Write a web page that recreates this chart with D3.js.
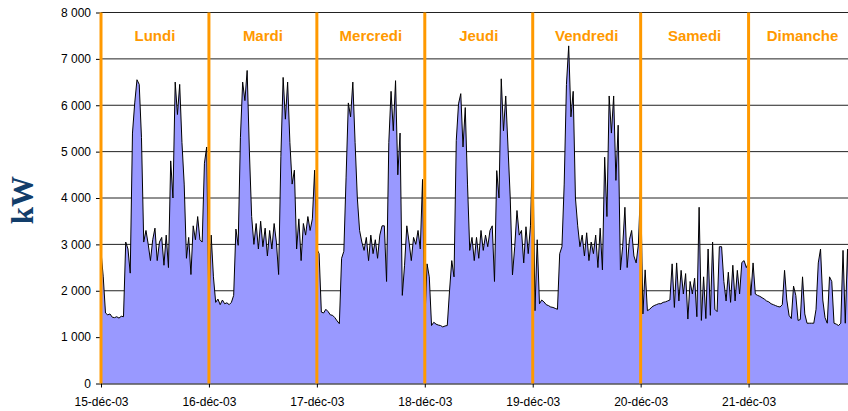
<!DOCTYPE html>
<html>
<head>
<meta charset="utf-8">
<script src="https://cdn.jsdelivr.net/npm/d3@7"></script>
<style>
  body { margin: 0; background: #fff; }
  svg { display: block; font-family: Arial, "Liberation Sans", sans-serif; }
</style>
</head>
<body>
<svg class="chart" width="848" height="411"></svg>
<script>
// day names and date tick labels
const days = ["Lundi", "Mardi", "Mercredi", "Jeudi", "Vendredi", "Samedi", "Dimanche"];
const dateLabels = ["15-déc-03", "16-déc-03", "17-déc-03", "18-déc-03", "19-déc-03", "20-déc-03", "21-déc-03"];
const yTicks = [0, 1000, 2000, 3000, 4000, 5000, 6000, 7000, 8000];

// half-hourly load (kW), 48 values per day
const lundi = [2850, 2300, 1520, 1480, 1500, 1430, 1420, 1440, 1410, 1450, 1440, 3050, 2900, 2380, 5400, 6050, 6550, 6450, 5300, 3050, 3300, 3000, 2650, 3100, 3350, 2650, 3050, 3150, 2550, 3200, 2500, 4800, 4000, 6500, 5800, 6450, 5200, 4300, 2700, 3150, 2350, 3400, 3100, 3600, 3100, 3050, 4750, 5100];
const mardi = [1550, 3200, 2300, 1750, 1820, 1700, 1800, 1720, 1740, 1700, 1750, 1900, 3330, 2980, 5300, 6500, 6100, 6750, 5000, 3600, 3000, 3450, 2900, 3500, 2950, 3350, 2750, 3300, 2900, 3450, 3050, 2350, 4900, 6600, 5700, 6500, 5200, 4300, 4600, 2900, 3550, 2650, 3450, 3200, 3600, 3300, 3550, 4600];
const mercredi = [2900, 2800, 1540, 1520, 1600, 1550, 1480, 1470, 1420, 1350, 1290, 2700, 2850, 4450, 6050, 5750, 6500, 5200, 4000, 3300, 3050, 2870, 3150, 2650, 3200, 2800, 3100, 2700, 3200, 3400, 3400, 2200, 5200, 6300, 5450, 6530, 4500, 5400, 1900, 2550, 3400, 3050, 2650, 3150, 3000, 3300, 2900, 4400];
const jeudi = [1300, 2580, 2300, 1250, 1320, 1280, 1260, 1250, 1220, 1240, 1250, 2000, 2650, 2300, 5240, 6030, 6250, 5100, 5950, 4300, 2870, 3150, 2650, 3150, 2700, 3300, 2870, 3200, 2950, 3300, 3400, 2200, 4590, 4000, 6570, 5450, 6200, 5100, 4000, 2340, 2950, 3730, 3200, 3300, 2600, 3380, 2800, 3400];
const vendredi = [5240, 1570, 3100, 1720, 1800, 1760, 1700, 1680, 1650, 1640, 1620, 1600, 2800, 2950, 4300, 6450, 7280, 5750, 6300, 4000, 3400, 2950, 3200, 2750, 3250, 2650, 3050, 2800, 3200, 2500, 3350, 2450, 4880, 3600, 6200, 5400, 6200, 4380, 5570, 2450, 2950, 3800, 2500, 3100, 3300, 2750, 2600, 3000];
const samedi = [4300, 1500, 2450, 1570, 1600, 1650, 1680, 1700, 1720, 1720, 1750, 1760, 1780, 1800, 2580, 1640, 2600, 1780, 2440, 1930, 2370, 1390, 2200, 1930, 2270, 1440, 3800, 1360, 2300, 1400, 2900, 1470, 3050, 1600, 1550, 2950, 2950, 2200, 1780, 2400, 1750, 2550, 1780, 2440, 1930, 2610, 2650, 2500];
const dimanche = [2600, 1900, 2600, 1930, 1900, 1880, 1850, 1820, 1780, 1760, 1720, 1700, 1680, 1660, 1650, 1700, 2440, 1800, 1470, 1400, 2100, 1900, 1360, 1380, 2300, 1500, 1300, 1300, 1300, 1300, 1600, 2600, 2900, 1800, 1420, 1300, 2300, 2200, 1300, 1280, 1250, 1300, 2870, 1300, 2900, 1400, 1400, 1500];

const week = [lundi, mardi, mercredi, jeudi, vendredi, samedi, dimanche];
const data = week.flat().map((v, i) => ({ t: i / 48, v: v }));

const svg = d3.select(".chart");
const width = 848;
const height = 411;
const margin = { top: 12.5, right: 0, bottom: 27.5, left: 101 };

const x = d3.scaleLinear()
  .domain([0, 7])
  .range([margin.left, margin.left + 7 * 107.93]);

const y = d3.scaleLinear()
  .domain([0, 8000])
  .range([height - margin.bottom, margin.top]);

const fr = d3.formatLocale({ decimal: ",", thousands: " ", grouping: [3], currency: ["", " €"] });
const fmt = fr.format(",d");

// gridlines
svg.append("g")
  .selectAll("line")
  .data(yTicks.filter((d) => d > 0))
  .join("line")
  .attr("x1", margin.left)
  .attr("x2", width)
  .attr("y1", (d) => y(d))
  .attr("y2", (d) => y(d))
  .attr("stroke", "#222")
  .attr("stroke-width", 1);

// area + line
const area = d3.area()
  .x((d) => x(d.t))
  .y0(y(0))
  .y1((d) => y(d.v));

const line = d3.line()
  .x((d) => x(d.t))
  .y((d) => y(d.v));

svg.append("path")
  .datum(data)
  .attr("d", area)
  .attr("fill", "#9999FF");

svg.append("path")
  .datum(data)
  .attr("d", line)
  .attr("fill", "none")
  .attr("stroke", "#000")
  .attr("stroke-width", 1);

// axes
svg.append("g")
  .attr("transform", `translate(${margin.left},0)`)
  .call(d3.axisLeft(y).tickValues(yTicks).tickFormat(fmt).tickSize(5).tickSizeOuter(0).tickPadding(5))
  .call((g) => g.selectAll("text").attr("font-size", 12).attr("font-family", "Arial, 'Liberation Sans', sans-serif").attr("fill", "#000"));

svg.append("g")
  .attr("transform", `translate(0,${height - margin.bottom})`)
  .call(d3.axisBottom(x).tickValues(d3.range(7)).tickFormat((d) => dateLabels[d]).tickSize(4).tickSizeOuter(0).tickPadding(9.5))
  .call((g) => g.selectAll("text").attr("font-size", 12).attr("font-family", "Arial, 'Liberation Sans', sans-serif").attr("fill", "#000"));

// day separators
svg.append("g")
  .selectAll("line")
  .data(d3.range(7))
  .join("line")
  .attr("x1", (d) => x(d))
  .attr("x2", (d) => x(d))
  .attr("y1", margin.top)
  .attr("y2", height - margin.bottom)
  .attr("stroke", "#FF9900")
  .attr("stroke-width", 3);

// day names
svg.append("g")
  .selectAll("text")
  .data(days)
  .join("text")
  .attr("x", (d, i) => x(i + 0.5))
  .attr("y", 41)
  .attr("text-anchor", "middle")
  .attr("font-size", 15)
  .attr("font-weight", "bold")
  .attr("fill", "#FF9900")
  .text((d) => d);

// y label
svg.append("text")
  .attr("transform", "translate(33,200) rotate(-90)")
  .attr("text-anchor", "middle")
  .attr("font-family", "'Liberation Serif', 'Times New Roman', serif")
  .attr("font-weight", "bold")
  .attr("font-size", 31)
  .attr("fill", "#123D6A")
  .text("kW");
</script>
</body>
</html>
